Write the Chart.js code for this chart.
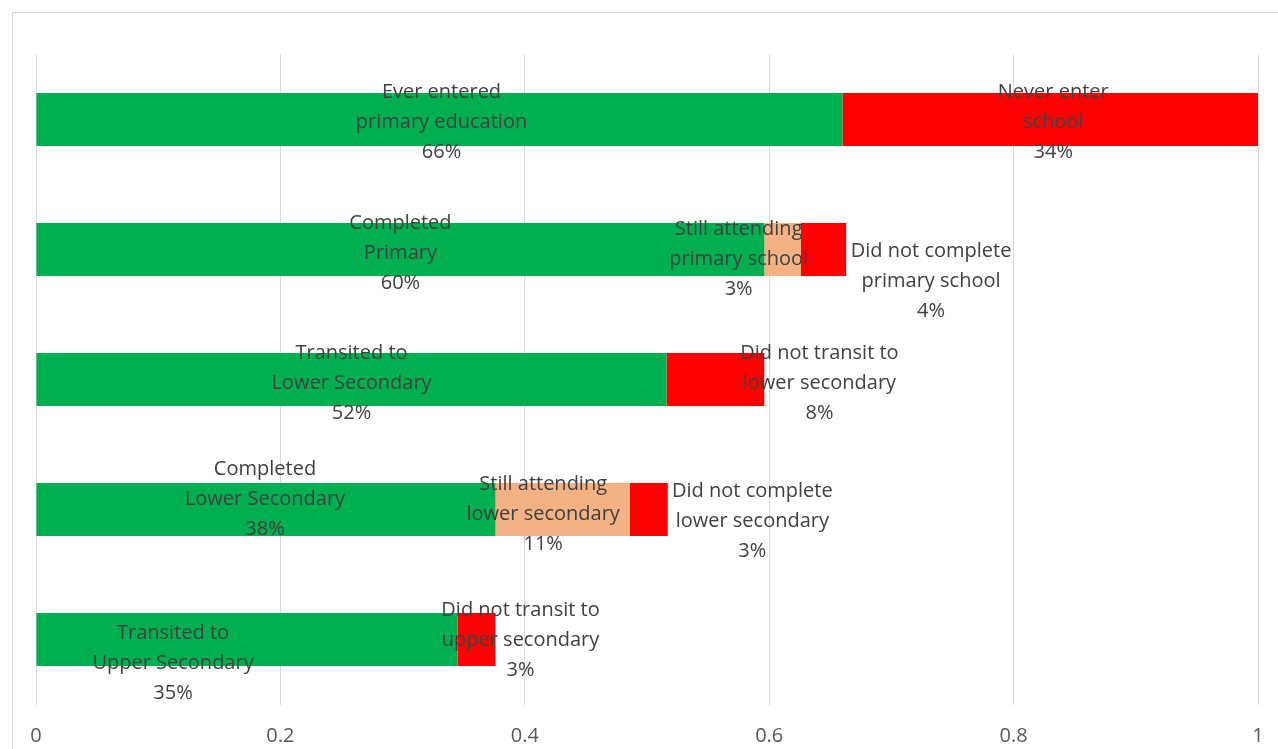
<!DOCTYPE html>
<html>
<head>
<meta charset="utf-8">
<script src="https://cdn.jsdelivr.net/npm/chart.js@4"></script>
<style>
  html, body { margin: 0; padding: 0; background: #ffffff; }
  #wrap { width: 1278px; height: 749px; }
</style>
</head>
<body>
<div id="wrap"><canvas id="c" width="1278" height="749"></canvas></div>
<script>
// ---- data ----
const categories = ["Entry", "Primary", "Transit LS", "Lower Secondary", "Transit US"];
const completedValues = [0.66, 0.596, 0.516, 0.376, 0.345];
const attendingValues = [null, 0.03, null, 0.11, null];
const notValues = [0.34, 0.037, 0.08, 0.031, 0.031];

const completedLabels = [
  ["Ever entered", "primary education", "66%"],
  ["Completed", "Primary", "60%"],
  ["Transited to", "Lower Secondary", "52%"],
  ["Completed", "Lower Secondary", "38%"],
  ["Transited to", "Upper Secondary", "35%"]
];
const attendingLabels = [
  null,
  ["Still attending", "primary school", "3%"],
  null,
  ["Still attending", "lower secondary", "11%"],
  null
];
const notLabels = [
  ["Never enter", "school", "34%"],
  ["Did not complete", "primary school", "4%"],
  ["Did not transit to", "lower secondary", "8%"],
  ["Did not complete", "lower secondary", "3%"],
  ["Did not transit to", "upper secondary", "3%"]
];
const xTicks = [0, 0.2, 0.4, 0.6, 0.8, 1];
const xTickLabels = ["0", "0.2", "0.4", "0.6", "0.8", "1"];

// ---- label placement (style: offsets from segment centre, px) ----
const labelOffsets = [
  [[2, 0], [0, 1], [0, 1], [-1, -13], [-74, 21.5]],
  [null, [-44, 7], null, [-19.5, 2], null],
  [[3, 0], [107.5, 29], [104, 1], [103.5, 9], [44, -1.5]]
];
const segmentLabels = [completedLabels, attendingLabels, notLabels];

const FONT = "'Open Sans', Lato, sans-serif";

const borderPlugin = {
  id: 'outerBorder',
  beforeDraw(chart) {
    const ctx = chart.ctx;
    ctx.save();
    ctx.fillStyle = '#ffffff';
    ctx.fillRect(0, 0, chart.width, chart.height);
    ctx.strokeStyle = '#D9D9D9';
    ctx.lineWidth = 1;
    ctx.strokeRect(12.5, 12.5, 1400, 1000);
    ctx.restore();
  }
};

const labelPlugin = {
  id: 'segLabels',
  afterDatasetsDraw(chart) {
    const ctx = chart.ctx;
    ctx.save();
    ctx.font = "20px " + FONT;
    ctx.fillStyle = '#404040';
    ctx.textAlign = 'center';
    ctx.textBaseline = 'middle';
    const lh = 30;
    const shift = 2.5;
    chart.data.datasets.forEach((ds, di) => {
      const meta = chart.getDatasetMeta(di);
      meta.data.forEach((el, i) => {
        const lines = segmentLabels[di][i];
        const off = labelOffsets[di][i];
        if (!lines || !off || ds.data[i] == null) return;
        const cx = (el.x + el.base) / 2 + off[0];
        const cy = el.y + off[1] + shift;
        lines.forEach((t, k) => {
          ctx.fillText(t, cx, cy + (k - 1) * lh);
        });
      });
    });
    ctx.restore();
  }
};

new Chart(document.getElementById('c'), {
  type: 'bar',
  data: {
    labels: categories,
    datasets: [
      { label: 'Completed', data: completedValues, backgroundColor: '#00B050' },
      { label: 'Still attending', data: attendingValues, backgroundColor: '#F4B183' },
      { label: 'Did not', data: notValues, backgroundColor: '#FF0000' }
    ]
  },
  options: {
    indexAxis: 'y',
    responsive: false,
    animation: false,
    devicePixelRatio: 1,
    layout: { padding: { left: 36, right: 20, top: 54.5, bottom: 0 } },
    datasets: { bar: { categoryPercentage: 1, barPercentage: 0.408, borderWidth: 0 } },
    plugins: { legend: { display: false }, tooltip: { enabled: false } },
    scales: {
      x: {
        stacked: true,
        min: 0,
        max: 1,
        afterBuildTicks(scale) { scale.ticks = xTicks.map(v => ({ value: v })); },
        afterFit(scale) { scale.height = 44.5; scale.paddingLeft = 0; scale.paddingRight = 0; },
        grid: { color: '#D9D9D9', lineWidth: 1, drawTicks: false },
        border: { display: false },
        ticks: {
          font: { family: FONT, size: 20 },
          color: '#595959',
          padding: 20,
          callback(value, index) { return xTickLabels[index]; }
        }
      },
      y: {
        stacked: true,
        display: false
      }
    }
  },
  plugins: [borderPlugin, labelPlugin]
});
</script>
</body>
</html>
